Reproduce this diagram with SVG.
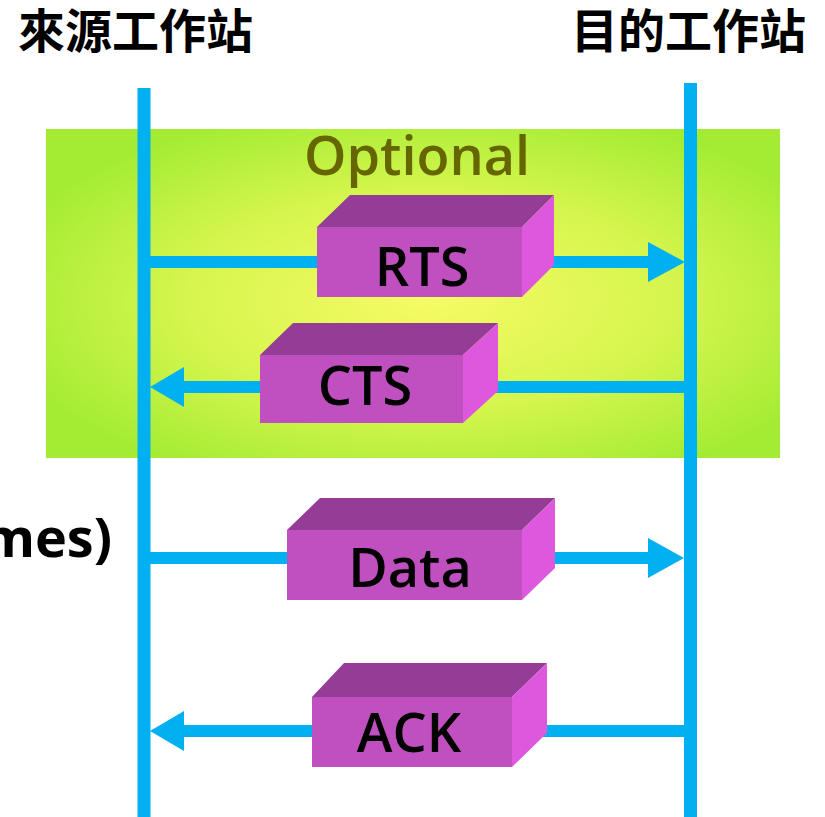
<svg xmlns="http://www.w3.org/2000/svg" width="825" height="817" viewBox="0 0 825 817">
<defs>
<radialGradient id="bg" cx="0.52" cy="0.52" r="0.6">
<stop offset="0" stop-color="#f6fb64"/>
<stop offset="0.55" stop-color="#d6f54e"/>
<stop offset="1" stop-color="#a4ec34"/>
</radialGradient>
<filter id="soft" x="-5%" y="-5%" width="110%" height="110%"><feGaussianBlur stdDeviation="0.6"/></filter>
</defs>
<style>
.hdr{font-family:"Noto Sans CJK TC","Noto Sans CJK SC",sans-serif;font-weight:bold;font-size:47px;fill:#000}
.lbl{font-family:"Open Sans","Noto Sans",sans-serif;font-weight:600;font-size:54px;fill:#000;text-anchor:middle}
.opt{font-family:"Open Sans","Noto Sans",sans-serif;font-weight:600;font-size:54px;fill:#666600}
.side{font-family:"Open Sans","Noto Sans",sans-serif;font-weight:bold;font-size:54px;fill:#000;text-anchor:end}
.life{stroke:#00b0f0;stroke-width:13;fill:none}
.msg{stroke:#00b0f0;stroke-width:12;fill:none}
.head{fill:#00b0f0}
.top{fill:#953d96}
.front{fill:#c050c0}
.side-face{fill:#dd59dc}
</style>
<rect x="46" y="129" width="734" height="329" fill="url(#bg)"/>
<text class="opt" x="304" y="175">Optional</text>
<g id="src-header"><text class="hdr" x="18" y="48">來源工作站</text></g>
<g id="dst-header"><text class="hdr" x="571" y="48">目的工作站</text></g>
<text class="side" x="112" y="557">mes)</text>
<g id="lifelines">
<line class="life" x1="144" y1="88" x2="144" y2="817"/>
<line class="life" x1="690.5" y1="83" x2="690.5" y2="817"/>
</g>
<g id="connectors">
<line class="msg" x1="144" y1="262" x2="652" y2="262"/>
<polygon class="head" points="648,242 685,262 648,282"/>
<line class="msg" x1="690" y1="387" x2="180" y2="387"/>
<polygon class="head" points="184,367 150,387 184,407"/>
<line class="msg" x1="144" y1="558" x2="652" y2="558"/>
<polygon class="head" points="648,538 684,558 648,578"/>
<line class="msg" x1="690" y1="731" x2="180" y2="731"/>
<polygon class="head" points="184,711 150,731 184,751"/>
</g>
<g id="rts" filter="url(#soft)">
<polygon class="top" points="317,227 350,195 554,195 522,227"/>
<polygon class="side-face" points="522,227 554,195 554,265 522,297"/>
<rect class="front" x="317" y="227" width="205" height="70"/>
<text class="lbl" x="422" y="286">RTS</text>
</g>
<g id="cts" filter="url(#soft)">
<polygon class="top" points="260,355 293,323 498,323 463,355"/>
<polygon class="side-face" points="463,355 498,323 498,391 463,423"/>
<rect class="front" x="260" y="355" width="203" height="68"/>
<text class="lbl" x="365" y="405">CTS</text>
</g>
<g id="data" filter="url(#soft)">
<polygon class="top" points="287,530 320,498 555,498 522,530"/>
<polygon class="side-face" points="522,530 555,498 555,568 522,600"/>
<rect class="front" x="287" y="530" width="235" height="70"/>
<text class="lbl" x="410" y="587">Data</text>
</g>
<g id="ack" filter="url(#soft)">
<polygon class="top" points="312,697 344,663 547,663 512,697"/>
<polygon class="side-face" points="512,697 547,663 547,733 512,767"/>
<rect class="front" x="312" y="697" width="200" height="70"/>
<text class="lbl" x="409" y="752">ACK</text>
</g>
</svg>
